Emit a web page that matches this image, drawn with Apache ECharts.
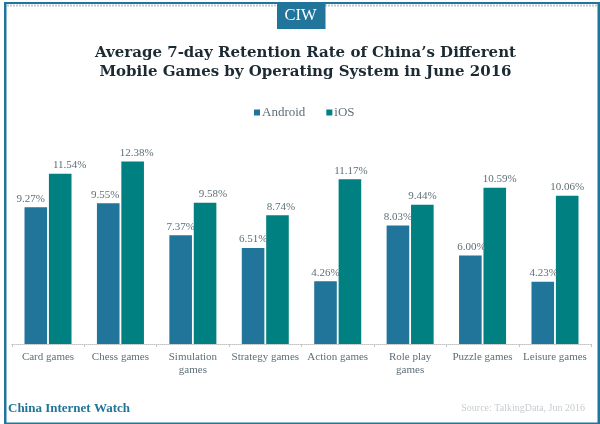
<!DOCTYPE html>
<html>
<head>
<meta charset="utf-8">
<style>
  html, body { margin: 0; padding: 0; background: #fff; }
  #main { width: 600px; height: 424px; }
</style>
<script src="https://cdn.jsdelivr.net/npm/echarts@6/dist/echarts.min.js"></script>
</head>
<body>
<div id="main"></div>
<script>
  const categories = ['Card games', 'Chess games', 'Simulation\ngames', 'Strategy games', 'Action games', 'Role play\ngames', 'Puzzle games', 'Leisure games'];
  const android = [9.27, 9.55, 7.37, 6.51, 4.26, 8.03, 6.00, 4.23];
  const ios = [11.54, 12.38, 9.58, 8.74, 11.17, 9.44, 10.59, 10.06];

  // the labels sit a little off centre in the original
  const androidShift = [-5, -3, 0, 0, 0, 0, 1, 1];
  const iosShift = [9.5, 4, 8, 3.5, 1, 0, 5, 0];

  const serif = '"Liberation Serif", serif';
  const blue = '#21759b';
  const teal = '#008080';
  const textGrey = '#5d7078';

  function makeSeries(name, values, shift, color) {
    return {
      name: name,
      type: 'bar',
      barWidth: 22.6,
      barGap: '8%',
      itemStyle: { color: color },
      data: values.map((v, i) => ({
        value: v,
        label: {
          show: true,
          position: 'top',
          distance: 3,
          offset: [shift[i], 0],
          formatter: p => p.value.toFixed(2) + '%',
          fontFamily: serif,
          fontSize: 11,
          color: textGrey
        }
      }))
    };
  }

  const myChart = echarts.init(document.getElementById('main'), null, { renderer: 'canvas' });
  const option = {
    animation: false,
    backgroundColor: '#fff',
    title: {
      text: 'Average 7-day Retention Rate of China\u2019s Different\nMobile Games by Operating System in June 2016',
      left: 300.5,
      textAlign: 'center',
      top: 39,
      textStyle: { fontFamily: '"DejaVu Serif", serif', fontWeight: 'bold', fontSize: 15, lineHeight: 18.7, color: '#1c2b33' }
    },
    legend: {
      data: ['Android', 'iOS'],
      top: 101,
      left: 249,
      itemWidth: 6,
      itemHeight: 6,
      itemGap: 21,
      icon: 'rect',
      textStyle: { fontFamily: serif, fontSize: 13, color: textGrey, padding: [0, 0, 0, -3] }
    },
    grid: { left: 11.8, right: 8.8, top: 137.6, bottom: 80 },
    xAxis: {
      type: 'category',
      data: categories,
      axisLine: { lineStyle: { color: '#c4c4c4', type: 'dotted' } },
      axisTick: { show: true, length: 3, lineStyle: { color: '#c4c4c4' } },
      axisLabel: { interval: 0, fontFamily: serif, fontSize: 11, lineHeight: 13, color: textGrey, margin: 7 }
    },
    yAxis: { type: 'value', min: 0, max: 14, show: false },
    series: [
      makeSeries('Android', android, androidShift, blue),
      makeSeries('iOS', ios, iosShift, teal)
    ],
    graphic: [
      // page frame
      { type: 'rect', shape: { x: 4, y: 2, width: 596, height: 2 }, style: { fill: blue } },
      { type: 'rect', shape: { x: 4, y: 2, width: 2.5, height: 422 }, style: { fill: blue } },
      { type: 'rect', shape: { x: 597.5, y: 2, width: 2.5, height: 422 }, style: { fill: blue } },
      { type: 'rect', shape: { x: 4, y: 422.5, width: 596, height: 1.5 }, style: { fill: blue } },
      { type: 'line', shape: { x1: 7, y1: 5.5, x2: 597, y2: 5.5 }, style: { stroke: '#c4c9cb', lineWidth: 2, lineDash: [2, 1] } },
      // badge
      { type: 'rect', shape: { x: 277, y: 3, width: 48.5, height: 26 }, style: { fill: blue } },
      { type: 'text', x: 300.5, y: 16, style: { text: 'CIW', fill: '#fff', font: '16.5px ' + serif, textAlign: 'center', textVerticalAlign: 'middle' } },
      // footer
      { type: 'text', x: 8, y: 408.5, style: { text: 'China Internet Watch', fill: blue, font: 'bold 13px ' + serif, textVerticalAlign: 'middle' } },
      { type: 'text', x: 585, y: 408.5, style: { text: 'Source: TalkingData, Jun 2016', fill: '#c8cdd0', font: '10px ' + serif, textAlign: 'right', textVerticalAlign: 'middle' } }
    ]
  };
  myChart.setOption(option);
</script>
</body>
</html>
